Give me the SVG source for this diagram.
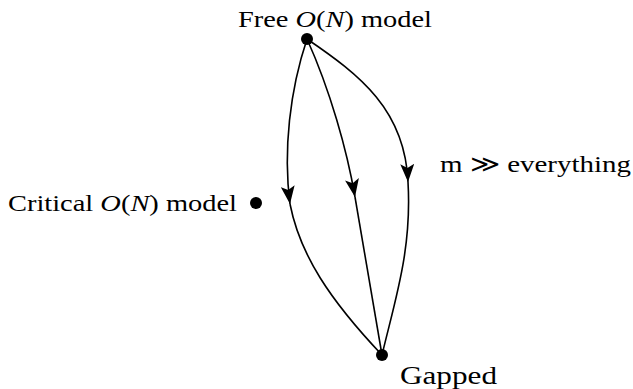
<svg xmlns="http://www.w3.org/2000/svg" width="633" height="389" viewBox="0 0 633 389">
<style>
text{font-family:"Liberation Serif","DejaVu Serif",serif;font-size:24px;fill:#000}
.i{font-style:italic}
.e{fill:none;stroke:#000;stroke-width:1.6}
.n{fill:#000}
</style>
<defs>
<marker id="ah" viewBox="0 0 18 14" refX="18" refY="7" markerWidth="18" markerHeight="14" markerUnits="userSpaceOnUse" orient="auto">
<path d="M0,0 L18,7 L0,14 L4,7 Z" fill="#000"/>
</marker>
</defs>
<rect width="633" height="389" fill="#fff"/>
<g id="connectors">
<path class="e" d="M307,39 C290,90 283,150 290,204" marker-end="url(#ah)"/>
<path class="e" d="M290,204 C300,255 330,300 382,355"/>
<path class="e" d="M307,39 C330,90 347,150 355,197" marker-end="url(#ah)"/>
<path class="e" d="M355,197 L382,355"/>
<path class="e" d="M307,39 C360,75 405,110 408,182" marker-end="url(#ah)"/>
<path class="e" d="M408,182 C412,250 395,300 382,355"/>
</g>
<g id="free">
<circle class="n" cx="307" cy="39" r="6"/>
<text x="238" y="27" textLength="194" lengthAdjust="spacingAndGlyphs">Free <tspan class="i">O</tspan>(<tspan class="i">N</tspan>) model</text>
</g>
<g id="critical">
<circle class="n" cx="256" cy="203" r="6"/>
<text x="8" y="211" textLength="229" lengthAdjust="spacingAndGlyphs">Critical <tspan class="i">O</tspan>(<tspan class="i">N</tspan>) model</text>
</g>
<g id="gapped">
<circle class="n" cx="382" cy="355" r="6"/>
<text x="400" y="384" style="font-size:26px" textLength="97" lengthAdjust="spacingAndGlyphs">Gapped</text>
</g>
<g id="label">
<text x="440" y="172" textLength="191" lengthAdjust="spacingAndGlyphs">m ≫ everything</text>
</g>
</svg>
